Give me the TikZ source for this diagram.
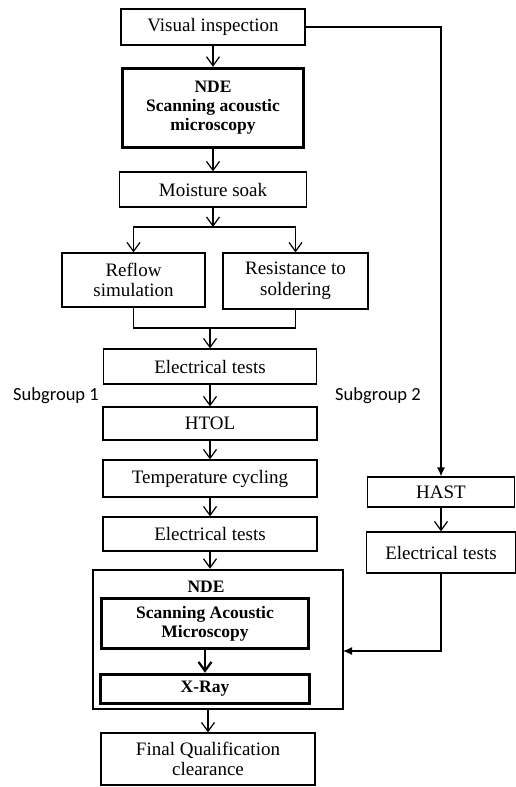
\documentclass[tikz,border=0pt]{standalone}
\usepackage{fontspec}
\setmainfont{Liberation Serif}
\newfontfamily\grpfont{Carlito}
\usetikzlibrary{arrows.meta}

\tikzset{
  box/.style = {draw, line width = 1.2pt, inner sep = 0pt, align = center, font = \fontsize{19}{20.5}\selectfont},
  ndebox/.style = {box, line width = 3.5pt, font = \fontsize{17.5}{19}\selectfont\bfseries},
  flow/.style = {line width = 1.2pt, -{Straight Barb[length = 9pt, width = 13pt]}},
  feed/.style = {line width = 1.2pt, -{Latex[length = 9pt, width = 8pt]}},
  grp/.style = {font = \grpfont\fontsize{18.5}{20}\selectfont}
}

\begin{document}
\begin{tikzpicture}[x = 1pt, y = -1pt]
\useasboundingbox (0, 0) rectangle (516, 787);
%\draw[very thin, color = gray](0, 0) grid [step = 50] (516, 787);
\node (visual) at (213, 27) [box, minimum width = 184pt, minimum height = 36pt] {Visual inspection};
\node (sam) at (213, 108) [ndebox, minimum width = 181pt, minimum height = 79pt] {NDE\\Scanning acoustic\\microscopy};
\node (soak) at (213, 189.5) [box, minimum width = 187pt, minimum height = 35pt] {Moisture soak};
\coordinate (split) at (213, 227);
\node (reflow) at (133.5, 280) [box, minimum width = 143pt, minimum height = 54pt] {Reflow\\simulation};
\node (solder) at (295.5, 281) [box, minimum width = 145pt, minimum height = 56pt] {Resistance to\\soldering};
\coordinate (merge) at (210, 328);
\node (elec1) at (210, 366.5) [box, minimum width = 213pt, minimum height = 35pt] {Electrical tests};
\node (grp1) at (56, 396) [grp] {Subgroup 1};
\node (grp2) at (378, 396) [grp] {Subgroup 2};
\node (htol) at (210, 423.5) [box, minimum width = 214pt, minimum height = 33pt] {HTOL};
\node (cycle) at (210, 478.5) [box, minimum width = 214pt, minimum height = 37pt] {Temperature cycling};
\node (elec2) at (210, 534) [box, minimum width = 214pt, minimum height = 34pt] {Electrical tests};
\node (nde) at (218, 639.5) [draw, line width = 2.5pt, minimum width = 250pt, minimum height = 139pt] {};
\node (ndelabel) at (206, 587) [font = \fontsize{17.5}{19}\selectfont\bfseries] {NDE};
\node (acoustic) at (205, 623.5) [ndebox, minimum width = 207pt, minimum height = 50pt] {Scanning Acoustic\\Microscopy};
\node (xray) at (205, 689) [ndebox, minimum width = 209pt, minimum height = 29pt] {X-Ray};
\node (final) at (208, 759) [box, minimum width = 214pt, minimum height = 52pt] {Final Qualification\\clearance};
\node (hast) at (441, 492) [box, minimum width = 147pt, minimum height = 30pt] {HAST};
\node (elec3) at (441, 552.5) [box, minimum width = 149pt, minimum height = 41pt] {Electrical tests};
\coordinate (ndein) at (343, 651);
% subgroup 1
\draw [flow] (visual) -- (sam);
\draw [flow] (sam) -- (soak);
\draw [flow] (soak) -- (split);
\draw [flow] (split) -| (reflow);
\draw [flow] (split) -| (solder);
\draw [line width = 1.2pt] (reflow) |- (merge) -| (solder);
\draw [flow] (merge) -- (elec1);
\draw [flow] (elec1) -- (htol);
\draw [flow] (htol) -- (cycle);
\draw [flow] (cycle) -- (elec2);
\draw [flow] (elec2.south) -- (elec2.south |- nde.north);
\draw [flow, line width = 2.2pt] (acoustic) -- (xray);
\draw [flow] (nde.south -| final) -- (final);
% subgroup 2
\draw [feed] (visual) -| (hast);
\draw [flow] (hast) -- (elec3);
\draw [feed] (elec3) |- (ndein);
\end{tikzpicture}
\end{document}
